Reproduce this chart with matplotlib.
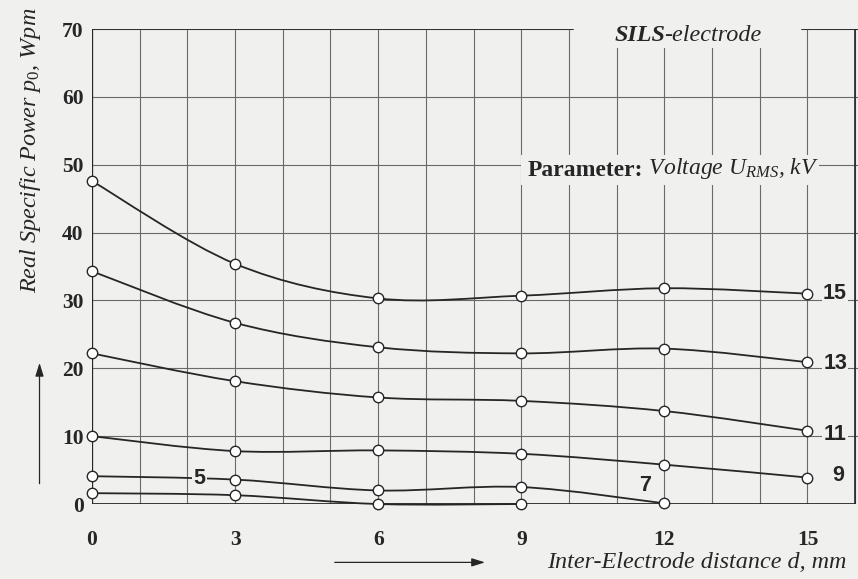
import numpy as np
import matplotlib
matplotlib.use("Agg")
import matplotlib.pyplot as plt
from matplotlib.path import Path
from matplotlib.patches import PathPatch, Rectangle

plt.rcParams["mathtext.fontset"] = "custom"
plt.rcParams["mathtext.rm"] = "Liberation Serif"
plt.rcParams["mathtext.it"] = "Liberation Serif:italic"
plt.rcParams["mathtext.bf"] = "Liberation Serif:bold"

# ---- data: real specific power p0 (W per m) vs inter-electrode distance d (mm)
distance = [0, 3, 6, 9, 12, 15]
p_15kv = [47.6, 35.4, 30.3, 30.7, 31.8, 31.0]
p_13kv = [34.3, 26.7, 23.1, 22.2, 22.9, 20.9]
p_11kv = [22.2, 18.1, 15.7, 15.2, 13.7, 10.8]
p_9kv = [10.0, 7.8, 7.9, 7.4, 5.8, 3.9]
p_7kv = [4.1, 3.6, 2.0, 2.5, 0.1]
p_5kv = [1.6, 1.3, 0.0, 0.0]

series = [p_15kv, p_13kv, p_11kv, p_9kv, p_7kv, p_5kv]
voltage_labels = ["15", "13", "11", "9", "7", "5"]
x_ticks = [0, 3, 6, 9, 12, 15]
y_ticks = [0, 10, 20, 30, 40, 50, 60, 70]

BG = "#f0f0ef"
INK = "#262626"
GRID = "#6a6a6a"


def smooth_path(xs, ys):
    """Catmull-Rom curve through the points, expressed as cubic Beziers."""
    pts = np.column_stack([xs, ys]).astype(float)
    n = len(pts)
    verts = [pts[0]]
    codes = [Path.MOVETO]
    for i in range(n - 1):
        p0 = pts[i - 1] if i > 0 else pts[i]
        p1, p2 = pts[i], pts[i + 1]
        p3 = pts[i + 2] if i + 2 < n else pts[i + 1]
        c1 = p1 + (p2 - p0) / 6.0
        c2 = p2 - (p3 - p1) / 6.0
        verts += [c1, c2, p2]
        codes += [Path.CURVE4] * 3
    return Path(verts, codes)


fig = plt.figure(figsize=(8.58, 5.79), dpi=100, facecolor=BG)
ax = fig.add_axes([0.1072, 0.1295, 0.8928, 0.8204], facecolor=BG)
ax.set_xlim(0, 16.06)
ax.set_ylim(0, 70)

for s in ax.spines.values():
    s.set_visible(False)

# grid: 1 mm verticals, 10 W/m horizontals
for xv in range(0, 17):
    top = 67.2 if 11 <= xv <= 14 else 70
    ax.plot([xv, xv], [0, top], color=GRID, lw=0.8, zorder=1)
for yv in y_ticks[1:]:
    ax.plot([0, 16.06], [yv, yv], color=GRID, lw=0.8, zorder=1)

# frame
ax.plot([0, 0], [0, 70], color=INK, lw=1.6, zorder=3)
ax.plot([0, 16], [0, 0], color=INK, lw=2.0, zorder=3, solid_capstyle="butt")
ax.plot([16, 16], [0, 70], color=INK, lw=1.2, zorder=3)
ax.plot([0, 10.08], [70, 70], color=INK, lw=1.2, zorder=3)
ax.plot([14.88, 16.06], [70, 70], color=INK, lw=1.2, zorder=3)

# curves with open circle markers
for ys in series:
    xs = distance[:len(ys)]
    ax.add_patch(PathPatch(smooth_path(xs, ys), fill=False, edgecolor=INK,
                           lw=1.3, zorder=4, clip_on=False))
    ax.plot(xs, ys, linestyle="none", marker="o", markersize=7.5,
            markerfacecolor="white", markeredgecolor=INK,
            markeredgewidth=1.0, zorder=5, clip_on=False)

# curve labels (kV)
label_pos = [(15.58, 31.0), (15.58, 20.65), (15.58, 10.2), (15.65, 4.2),
             (11.6, 2.8), (2.25, 3.8)]
for lab, (lx, ly) in zip(voltage_labels, label_pos):
    ax.text(lx, ly, lab, ha="center", va="center", fontsize=15.5,
            fontweight="bold", family="Liberation Sans", color=INK, zorder=6,
            bbox=dict(facecolor=BG, edgecolor="none", pad=1.0))

# ticks
ax.set_xticks(x_ticks)
ax.set_yticks(y_ticks)
ax.tick_params(length=0)
ax.tick_params(axis="x", pad=19)
ax.tick_params(axis="y", pad=6)
for lbl in ax.get_xticklabels() + ax.get_yticklabels():
    lbl.set_family("Liberation Serif")
    lbl.set_fontweight("bold")
    lbl.set_fontsize(15.5)
    lbl.set_color(INK)

# axis titles
ax.text(-1.28, 52.2, r"Real Specific Power $p_0$, Wpm", rotation=90,
        ha="center", va="center", fontsize=17.4, style="italic",
        family="Liberation Serif", color=INK, clip_on=False)
ax.text(12.67, -8.55, "Inter-Electrode distance d, mm", ha="center",
        va="center", fontsize=17.4, style="italic", family="Liberation Serif",
        color=INK, clip_on=False)

# direction arrows
ax.annotate("", xy=(-1.1, 20.8), xytext=(-1.1, 3.0),
            arrowprops=dict(arrowstyle="-|>,head_length=0.8,head_width=0.25",
                            color=INK, lw=0.9, shrinkA=0, shrinkB=0),
            annotation_clip=False)
ax.annotate("", xy=(8.24, -8.6), xytext=(5.09, -8.6),
            arrowprops=dict(arrowstyle="-|>,head_length=0.8,head_width=0.25",
                            color=INK, lw=0.9, shrinkA=0, shrinkB=0),
            annotation_clip=False)

# heading at the top edge
ax.add_patch(Rectangle((10.08, 67.2), 4.8, 7.5, facecolor=BG,
                       edgecolor="none", zorder=2, clip_on=False))
t1 = ax.text(10.95, 69.0, "SILS", ha="left", va="center", fontsize=17.4,
             style="italic", fontweight="bold", family="Liberation Serif",
             color=INK, zorder=6, clip_on=False)
ax.annotate("-electrode", xy=(1, 0), xycoords=t1, xytext=(-1, 0),
            textcoords="offset points", va="bottom", ha="left",
            fontsize=17.4, style="italic", family="Liberation Serif",
            color=INK, zorder=6)

# parameter note sitting on the 50 line
ax.add_patch(Rectangle((9.0, 47.0), 6.25, 4.4, facecolor=BG,
                       edgecolor="none", zorder=2))
t2 = ax.text(9.14, 49.1, "Parameter:", ha="left", va="center", fontsize=17,
             fontweight="bold", family="Liberation Serif", color=INK,
             zorder=6)
ax.annotate(r" Voltage $U_{RMS}$, kV", xy=(1, 0), xycoords=t2,
            va="bottom", ha="left", fontsize=17, style="italic",
            family="Liberation Serif", color=INK, zorder=6)

fig.savefig("out.png", dpi=100, facecolor=BG)
